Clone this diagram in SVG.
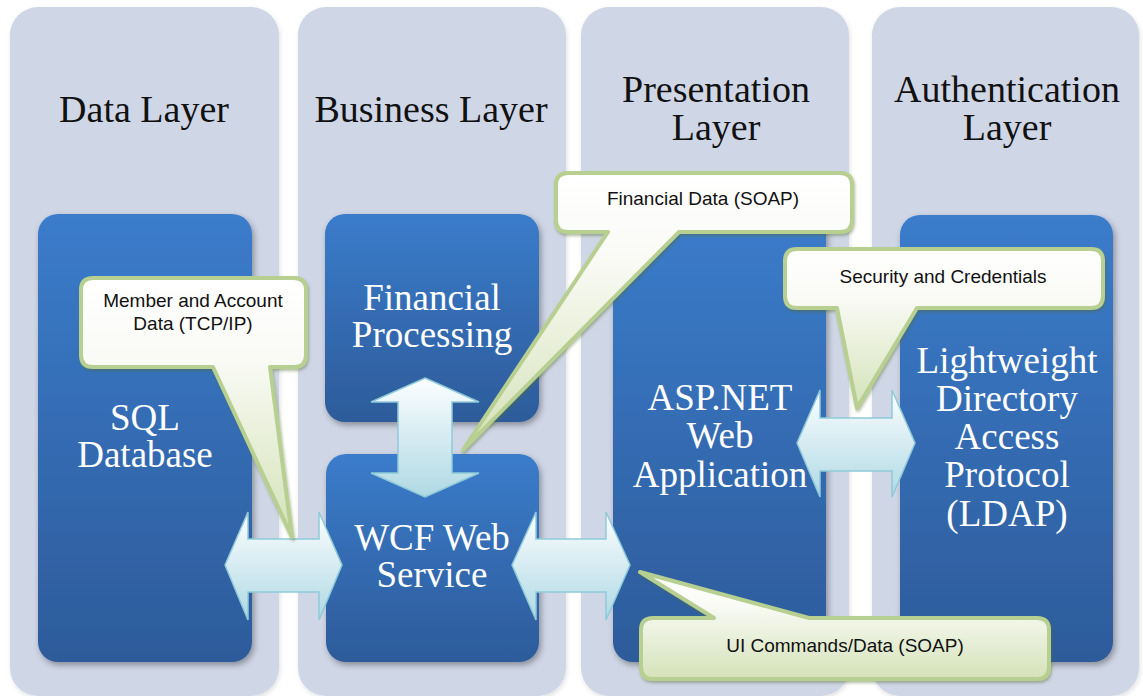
<svg xmlns="http://www.w3.org/2000/svg" width="1143" height="696" viewBox="0 0 1143 696">
<defs>
<linearGradient id="blue" x1="0" y1="0" x2="0" y2="1">
<stop offset="0" stop-color="#3B7CCB"/>
<stop offset="1" stop-color="#2D5B9A"/>
</linearGradient>
<linearGradient id="cyan" x1="0" y1="0" x2="0" y2="1">
<stop offset="0" stop-color="#FCFEFF"/>
<stop offset="1" stop-color="#AFD9E4"/>
</linearGradient>
<linearGradient id="green" x1="0" y1="0" x2="0" y2="1">
<stop offset="0" stop-color="#FFFFFF"/>
<stop offset="0.3" stop-color="#FAFBF6"/>
<stop offset="1" stop-color="#D4E2B8"/>
</linearGradient>
<filter id="shColumn" x="-5%" y="-5%" width="110%" height="110%">
<feDropShadow dx="1" dy="2" stdDeviation="2" flood-color="#000" flood-opacity="0.12"/>
</filter>
<filter id="shBox" x="-10%" y="-10%" width="120%" height="120%">
<feDropShadow dx="2" dy="3" stdDeviation="3" flood-color="#000" flood-opacity="0.35"/>
</filter>
<filter id="shCallout" x="-10%" y="-10%" width="120%" height="125%">
<feDropShadow dx="1" dy="2" stdDeviation="1.5" flood-color="#556B2F" flood-opacity="0.45"/>
</filter>
<style>
.col{fill:#CFD6E6;filter:url(#shColumn);}
.hdr{font-family:"Liberation Serif","Times New Roman",serif;font-size:38px;fill:#111;text-anchor:middle;}
.box{fill:url(#blue);filter:url(#shBox);}
.btxt{font-family:"Liberation Serif","Times New Roman",serif;font-size:37px;fill:#FFFFFF;text-anchor:middle;}
.arrow{fill:url(#cyan);stroke:#8FCAD9;stroke-width:1.5;stroke-linejoin:miter;}
.callout{fill:url(#green);stroke:#B7CF90;stroke-width:4;stroke-linejoin:round;filter:url(#shCallout);}
.ctxt{font-family:"Liberation Sans",Arial,sans-serif;font-size:19px;fill:#111;text-anchor:middle;}
</style>
</defs>
<rect width="1143" height="696" fill="#FFFFFF"/>

<g id="data-layer">
<rect class="col" x="10" y="7" width="269" height="689" rx="28"/>
<text class="hdr" x="144" y="122">Data Layer</text>
</g>
<g id="business-layer">
<rect class="col" x="298" y="7" width="268" height="689" rx="28"/>
<text class="hdr" x="431" y="122">Business Layer</text>
</g>
<g id="presentation-layer">
<rect class="col" x="581" y="7" width="268" height="689" rx="28"/>
<text class="hdr" x="716" y="102">Presentation</text>
<text class="hdr" x="716" y="140">Layer</text>
</g>
<g id="authentication-layer">
<rect class="col" x="872" y="7" width="267" height="689" rx="28"/>
<text class="hdr" x="1007" y="102">Authentication</text>
<text class="hdr" x="1007" y="140">Layer</text>
</g>

<g id="sql-database">
<rect class="box" x="38" y="214" width="214" height="448" rx="20"/>
<text class="btxt" x="145" y="430">SQL</text>
<text class="btxt" x="145" y="467">Database</text>
</g>
<g id="financial-processing">
<rect class="box" x="325" y="214" width="214" height="208" rx="20"/>
<text class="btxt" x="432" y="310">Financial</text>
<text class="btxt" x="432" y="347">Processing</text>
</g>
<g id="wcf-web-service">
<rect class="box" x="326" y="454" width="213" height="208" rx="20"/>
<text class="btxt" x="432" y="550">WCF Web</text>
<text class="btxt" x="432" y="587">Service</text>
</g>
<g id="aspnet-web-application">
<rect class="box" x="613" y="214" width="213" height="448" rx="20"/>
<text class="btxt" x="720" y="410">ASP.NET</text>
<text class="btxt" x="720" y="448">Web</text>
<text class="btxt" x="720" y="487">Application</text>
</g>
<g id="ldap">
<rect class="box" x="900" y="215" width="213" height="447" rx="20"/>
<text class="btxt" x="1007" y="373">Lightweight</text>
<text class="btxt" x="1007" y="411">Directory</text>
<text class="btxt" x="1007" y="449">Access</text>
<text class="btxt" x="1007" y="487">Protocol</text>
<text class="btxt" x="1007" y="526">(LDAP)</text>
</g>

<g id="connectors">
<path class="arrow" d="M 225 565 L 248 512 L 248 539 L 319 539 L 319 512 L 342 565 L 319 620 L 319 592 L 248 592 L 248 620 Z"/>
<path class="arrow" d="M 512 565 L 536 512 L 536 539 L 606 539 L 606 512 L 630 565 L 606 620 L 606 592 L 536 592 L 536 620 Z"/>
<path class="arrow" d="M 425 378 L 479 402 L 452 402 L 452 473 L 479 473 L 425 497 L 371 473 L 398 473 L 398 402 L 371 402 Z"/>
<path class="arrow" d="M 797 443 L 820 390 L 820 418 L 892 418 L 892 390 L 915 443 L 892 497 L 892 471 L 820 471 L 820 497 Z"/>
</g>

<g id="callout-member-account">
<path class="callout" d="M 93 278 H 294 Q 306 278 306 290 V 355 Q 306 367 294 367 H 270 L 292 537 L 213 367 H 93 Q 81 367 81 355 V 290 Q 81 278 93 278 Z"/>
<text class="ctxt" x="193" y="307">Member and Account</text>
<text class="ctxt" x="193" y="330">Data (TCP/IP)</text>
</g>
<g id="callout-financial-data">
<path class="callout" d="M 568 173 H 840 Q 852 173 852 185 V 220 Q 852 232 840 232 H 679 L 463 450 L 608 232 H 568 Q 556 232 556 220 V 185 Q 556 173 568 173 Z"/>
<text class="ctxt" x="703" y="205">Financial Data (SOAP)</text>
</g>
<g id="callout-security">
<path class="callout" d="M 797 249 H 1091 Q 1103 249 1103 261 V 296 Q 1103 308 1091 308 H 917 L 857 408 L 837 308 H 797 Q 785 308 785 296 V 261 Q 785 249 797 249 Z"/>
<text class="ctxt" x="943" y="283">Security and Credentials</text>
</g>
<g id="callout-ui-commands">
<path class="callout" d="M 653 618 H 714 L 640 572 L 809 618 H 1037 Q 1049 618 1049 630 V 667 Q 1049 679 1037 679 H 653 Q 641 679 641 667 V 630 Q 641 618 653 618 Z"/>
<text class="ctxt" x="845" y="652">UI Commands/Data (SOAP)</text>
</g>
</svg>
